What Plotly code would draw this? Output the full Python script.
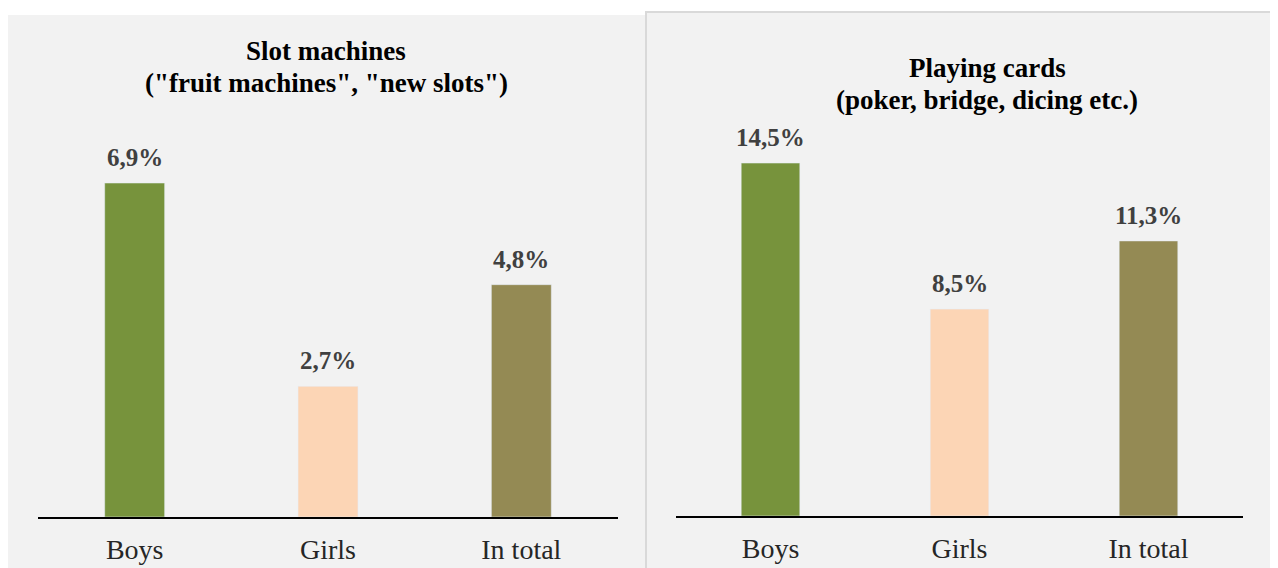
import plotly.graph_objects as go

categories = ["Boys", "Girls", "In total"]
slot_values = [6.9, 2.7, 4.8]
cards_values = [14.5, 8.5, 11.3]
bar_colors = ["#77933C", "#FCD5B5", "#948A54"]
left_title = ["Slot machines", "(\"fruit machines\", \"new slots\")"]
right_title = ["Playing cards", "(poker, bridge, dicing etc.)"]

# the page body adds an 8px margin, so the figure is drawn 8px smaller and offset
OFF = 8
W, H = 1278 - OFF, 568 - OFF
SERIF = "Liberation Serif, Times New Roman, serif"

def px(x):
    return (x - OFF) / W

def py(y):
    return 1 - (y - OFF) / H

fig = go.Figure()
fig.add_trace(go.Bar(x=categories, y=slot_values, marker_color=bar_colors, width=0.31,
                     xaxis="x", yaxis="y", showlegend=False, hoverinfo="x+y"))
fig.add_trace(go.Bar(x=categories, y=cards_values, marker_color=bar_colors, width=0.31,
                     xaxis="x2", yaxis="y2", showlegend=False, hoverinfo="x+y"))

def fmt(v):
    return f"{v:.1f}%".replace(".", ",")

val_font = dict(family=SERIF, size=25, color="#404040", weight="bold")
annotations = []
for c, v in zip(categories, slot_values):
    annotations.append(dict(x=c, y=v, xref="x", yref="y", text=fmt(v), showarrow=False,
                            yanchor="bottom", yshift=10, font=val_font))
for c, v in zip(categories, cards_values):
    annotations.append(dict(x=c, y=v, xref="x2", yref="y2", text=fmt(v), showarrow=False,
                            yanchor="bottom", yshift=10, font=val_font))

title_font = dict(family=SERIF, size=27, color="#000000", weight="bold")
for cx, ys, lines in [(326, (51, 83), left_title), (987, (68, 100), right_title)]:
    for yy, line in zip(ys, lines):
        annotations.append(dict(x=px(cx), y=py(yy), xref="paper", yref="paper", text=line,
                                showarrow=False, xanchor="center", yanchor="middle",
                                font=title_font))

shapes = [
    dict(type="rect", xref="paper", yref="paper", x0=px(7), x1=px(646), y0=-0.02, y1=py(15),
         fillcolor="#F2F2F2", line=dict(width=0), layer="below"),
    dict(type="rect", xref="paper", yref="paper", x0=px(646), x1=px(1272), y0=-0.02, y1=py(12),
         fillcolor="#F2F2F2", line=dict(color="#D9D9D9", width=2), layer="below"),
]

xaxis_common = dict(showline=True, linecolor="#000000", linewidth=2, showgrid=False,
                    zeroline=False, ticks="", ticklabelstandoff=6,
                    tickfont=dict(family=SERIF, size=28, color="#262626"))
yaxis_common = dict(visible=False, showgrid=False, zeroline=False)

fig.update_layout(
    width=W, height=H,
    margin=dict(l=0, r=0, t=0, b=0),
    paper_bgcolor="#FFFFFF",
    plot_bgcolor="rgba(0,0,0,0)",
    xaxis=dict(domain=[px(38), px(618)], anchor="y", **xaxis_common),
    yaxis=dict(domain=[py(517), py(15)], range=[0, (517 - 15) / 48.4], anchor="x", **yaxis_common),
    xaxis2=dict(domain=[px(676), px(1243)], anchor="y2", **xaxis_common),
    yaxis2=dict(domain=[py(516), py(15)], range=[0, (516 - 15) / 24.34], anchor="x2", **yaxis_common),
    annotations=annotations,
    shapes=shapes,
)

fig.write_html("out.html")
